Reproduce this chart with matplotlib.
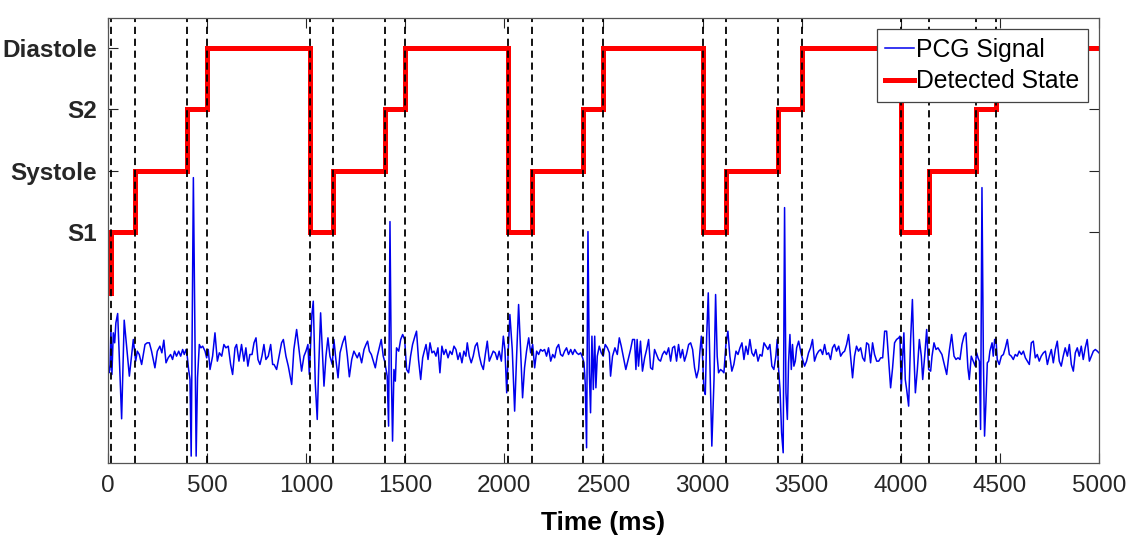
import numpy as np
import matplotlib
matplotlib.use("Agg")
import matplotlib.pyplot as plt

plt.rcParams['font.family'] = ['Liberation Sans', 'DejaVu Sans']

# -------------------- Data --------------------
STATE_NAMES = ["S1", "Systole", "S2", "Diastole"]
STATE_LEVELS = [1, 2, 3, 4]

# detected state: change times (ms) and state level after each change (0 = before first S1)
state_times = [0, 17, 138, 398, 498, 1017, 1137, 1399, 1499, 2018, 2139,
               2399, 2499, 3000, 3119, 3380, 3500, 4000, 4141, 4380, 4480]
state_values = [0, 1, 2, 3, 4, 1, 2, 3, 4, 1, 2,
                3, 4, 1, 2, 3, 4, 1, 2, 3, 4]
t_end = 5000

# segment boundaries (dashed lines)
boundaries = state_times[1:]

# PCG signal (ms, raw amplitude in arbitrary counts)
pcg_t = [
    0, 5, 10, 15, 20, 27, 34, 40, 49, 69, 82, 108, 128, 140, 148, 158, 170, 187, 198, 209,
    220, 237, 249, 262, 272, 282, 293, 304, 316, 326, 336, 346, 357, 367, 377, 385, 394, 400,
    407, 414, 420, 431, 445, 452, 461, 469, 478, 490, 498, 506, 515, 528, 540, 552, 562, 574,
    585, 595, 607, 619, 629, 641, 649, 661, 674, 686, 696, 706, 716, 727, 737, 747, 757, 767,
    777, 787, 797, 809, 821, 831, 838, 851, 865, 876, 885, 898, 910, 927, 938, 952, 964, 977,
    989, 999, 1009, 1016, 1023, 1029, 1036, 1046, 1056, 1063, 1073, 1083, 1090, 1100, 1110,
    1120, 1132, 1140, 1150, 1161, 1171, 1184, 1196, 1208, 1218, 1230, 1241,
    1258, 1268, 1280, 1292, 1302, 1310, 1319, 1329, 1339, 1349, 1359, 1369, 1379, 1389, 1396,
    1403, 1409, 1416, 1423, 1430, 1436, 1443, 1450, 1456, 1467, 1477, 1487, 1497, 1507, 1517,
    1527, 1537, 1549, 1557, 1567, 1578, 1588, 1594, 1605, 1615, 1625, 1635, 1645, 1655, 1665,
    1675, 1685, 1695, 1705, 1716, 1726, 1736, 1746, 1756, 1766, 1776, 1786, 1796, 1806, 1813,
    1823, 1833, 1843, 1853, 1863, 1874, 1884, 1894, 1904, 1914, 1924, 1934, 1944, 1954, 1964,
    1974, 1985, 1995, 2003, 2012, 2020, 2028, 2040, 2052, 2062, 2072, 2082, 2092, 2102, 2112,
    2123, 2133, 2143, 2153, 2163, 2173, 2183, 2193, 2203, 2213, 2223, 2234, 2244, 2254, 2264,
    2274, 2284, 2294, 2304, 2314, 2324, 2335, 2345, 2355, 2365, 2375, 2385, 2395, 2402, 2408,
    2415, 2422, 2429, 2435, 2442, 2449, 2456, 2462, 2469, 2479, 2489, 2499, 2509, 2520, 2530,
    2536, 2546, 2558, 2570, 2580, 2590, 2600, 2613, 2625, 2637, 2647, 2657, 2664, 2670, 2677,
    2687, 2697, 2708, 2718, 2728, 2738, 2748, 2758, 2768, 2778, 2788, 2798, 2808, 2818, 2829,
    2839, 2849, 2859, 2869, 2879, 2889, 2899, 2909, 2919, 2930, 2940, 2950, 2960, 2970, 2980,
    2987, 2994, 3000, 3007, 3014, 3021, 3029, 3037, 3047, 3058, 3066, 3074, 3081, 3091, 3101,
    3108, 3118, 3128, 3138, 3148, 3158, 3169, 3179, 3189, 3199, 3209, 3219, 3229, 3239, 3249,
    3259, 3269, 3280, 3290, 3300, 3310, 3320, 3330, 3340, 3350, 3360, 3370, 3377, 3384, 3391,
    3399, 3407, 3414, 3421, 3428, 3434, 3441, 3448, 3454, 3461, 3468, 3475, 3485, 3495, 3505,
    3515, 3525, 3535, 3545, 3555, 3565, 3576, 3586, 3596, 3606, 3616, 3626, 3636, 3646, 3656,
    3666, 3676, 3687, 3697, 3707, 3717, 3727, 3737, 3747, 3757, 3767, 3777, 3787,
    3798, 3808, 3818, 3828, 3838, 3848, 3858, 3868, 3879, 3889, 3899, 3909, 3919, 3929, 3939,
    3949, 3959, 3969, 3979, 3990, 3996, 4003, 4010, 4016, 4023, 4030, 4040, 4050, 4059, 4067,
    4074, 4084, 4094, 4104, 4111, 4121, 4131, 4141, 4151, 4158, 4168, 4178, 4188, 4198, 4208,
    4218, 4232, 4245, 4257, 4269, 4279, 4289, 4299, 4309, 4319, 4329, 4339, 4346, 4356, 4366,
    4376, 4383, 4390, 4397, 4403, 4410, 4417, 4423, 4430, 4437, 4444, 4450, 4461, 4467, 4474,
    4481, 4487, 4497, 4508, 4518, 4528, 4538, 4548, 4558, 4568, 4578, 4588, 4598, 4609, 4619,
    4629, 4639, 4649, 4659, 4669, 4679, 4689, 4699, 4709, 4720, 4730, 4740, 4750, 4760, 4770,
    4780, 4790, 4800, 4810, 4820, 4830, 4841, 4851, 4861, 4871, 4881, 4891, 4901, 4911, 4921,
    4931, 4941, 4952, 4962, 4972, 4982, 4992, 5000,
]
pcg_amp = [
    -20, -55, -45, 75, -60, 65, 35, 95, 123, -193, 103, -65, 45, -20, 10, 0, -30, 30, 35, 35,
    10, -40, 10, 25, 5, 43, -25, -10, 0, -15, 10, -5, 10, -5, 15, 0, 15, -5,
    -45, -75, -305, 531, -305, -70, 30, 20, 25, 10, -10, 15, -45, -5, 65, -20, 5, -5,
    30, 20, 25, -30, -60, 20, 30, -20, 30, -20, 20, -35, 0, 0, 35, 50, -15, -30,
    -5, 30, -15, -5, 30, -30, -30, -45, 0, 35, 45, -5, -35, -90, 15, 75, 15, -50,
    -5, 10, 30, -60, 35, 120, 160, -85, -195, -45, 125, -5, -95, -5, 50,
    -5, -30, 45, -15, -70, 5, 35, 55, -5, -67, -15, 10,
    -10, 5, -25, 15, 30, 40, 10, 0, -20, -40, -5, 20, 45, -5, -20,
    -45, -65, -215, 399, -60, -260, -45, -80, 20, 10, 45, 60, 45, -45, -55,
    -5, 30, 55, 70, -15, -75, -10, 5, 30, -15, 35, 5, 10, -5, 20,
    -55, 25, 0, 15, -10, 10, 0, 25, 15, -15, 5, -25, 10, -5, 35,
    -5, -25, -5, 25, 35, -5, -30, -45, 0, 40, -20, -5, 10, 5, -15,
    10, -20, 55, 15, -115, 15, 120, 15, -170, -5, 150, 15, -130, -40, 10,
    50, 5, 30, -40, 10, 0, 15, 10, 15, -5, 20, -20, 0, -10, 20,
    30, 0, -5, 10, 20, 0, 15, 0, 15, 5, 0, 5, -10, -25, -85,
    -280, 369, -55, -175, 55, -105, 55, -100, -5, 25, 5, -5, 30, 20, 5,
    -65, -5, 20, 0, 50, 25, -5, -45, -15, 15, 45, 45, -45, 45, -35,
    40, -50, -10, 15, 45, -40, -45, 15, 0, -15, -20, 0, 10, 0, 20,
    -20, 20, 25, -20, 30, -10, 15, -20, 0, 30, 35, 15, -40, -70, -45,
    10, 55, -5, -105, -120, 55, 185, -15, -275, -75, 180, -5, -55, -45, -50,
    -55, 30, 70, -5, -50, -30, 10, 0, 20, 35, -15, 25, 0, 45, 5,
    -5, 15, -20, 0, -5, 35, 25, 15, 30, -35, -45, -5, 45, -45, -105,
    -235, -295, 441, -115, -195, -25, 60, -45, 30, -35, -20, 20, 40, 10, -15,
    -35, -20, 5, 20, 45, -20, 0, 10, 15, 0, 30, 0, 5, -15, 20,
    30, 10, 25, -5, 5, 10, 30, 60, -5, -70, -5, 25, 10,
    20, -10, -20, 35, 30, -25, 35, 0, -20, -20, -10, -10, 70, 70, -15,
    -100, -40, 35, 45, 50, 55, -105, -5, 65, -75, -105, -155, 45, 165, -5,
    -115, -45, 45, -5, -75, -5, 75, -45, -50, -5, 35, 15, 20, 10, 0,
    -25, -60, 10, 60, -5, -15, -10, -15, 30, 55, 65, -40, -75, -5, -20,
    -35, 5, -10, -20, -225, 501, -5, -245, -145, -25, -20, 10, 35, -5, 45,
    45, -15, -30, -5, 0, 20, 45, 0, -5, -15, 0, -5, 10, 0, 10,
    -10, -20, -30, 35, 40, -10, 0, -20, -5, 5, 10, -30, -5, 15, -25,
    15, 40, -20, -35, -5, 20, -5, 30, -30, -50, 5, 20, -5, 25, -15,
    20, 45, -20, -5, 10, 15, 10, 5,
]

# the raw PCG is scaled and shifted so it sits below the state levels
PCG_GAIN = 1 / 184.0
PCG_OFFSET = -1.0

# -------------------- Plot --------------------
fig = plt.figure(figsize=(11.28, 5.42), dpi=100)
ax = fig.add_axes([0.0957, 0.1458, 0.8785, 0.8210])

pcg = np.asarray(pcg_amp, dtype=float) * PCG_GAIN + PCG_OFFSET
ax.plot(pcg_t, pcg, color="#0000ee", linewidth=1.1, label="PCG Signal")

st_t = state_times + [t_end]
st_v = state_values + [state_values[-1]]
ax.step(st_t, st_v, where="post", color="#ff0000", linewidth=3.6,
        label="Detected State", solid_joinstyle="miter")

for b in boundaries:
    ax.axvline(b, color="black", linestyle=(0, (4, 2.6)), linewidth=1.3)

ax.set_xlim(0, 5000)
ax.set_ylim(-2.77, 4.49)
ax.set_xticks(np.arange(0, 5001, 500))
ax.set_yticks(STATE_LEVELS)
ax.set_yticklabels(STATE_NAMES, fontweight="bold", fontsize=17.5)
ax.set_xlabel("Time (ms)", fontweight="bold", fontsize=19, labelpad=10)

ax.tick_params(axis="both", direction="in", length=7, width=0.8,
               top=True, right=True, colors="#262626")
ax.tick_params(axis="x", labelsize=17.5, pad=9)
ax.tick_params(axis="y", pad=8)
for sp in ax.spines.values():
    sp.set_color("#555555")
    sp.set_linewidth(0.9)

leg = ax.legend(loc="upper right", fontsize=17.8, handlelength=1.15,
                handletextpad=0.08, borderpad=0.35, labelspacing=0.3,
                borderaxespad=0.45, fancybox=False, framealpha=1)
leg.get_frame().set_edgecolor("#444444")
leg.get_frame().set_linewidth(0.9)

fig.savefig("out.png", dpi=100)
